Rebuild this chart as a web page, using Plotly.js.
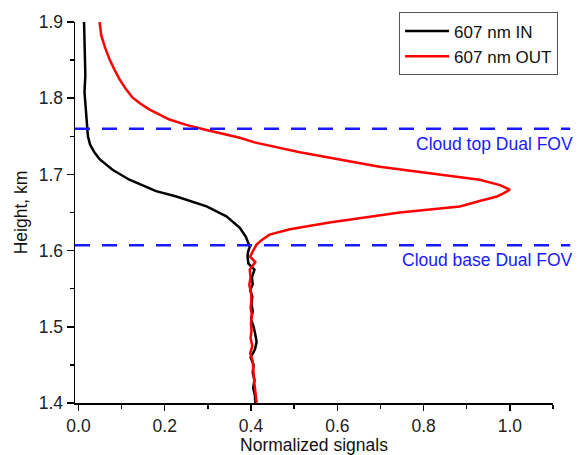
<!DOCTYPE html>
<html>
<head>
<meta charset="utf-8">
<script src="https://cdn.plot.ly/plotly-3.0.1.min.js"></script>
<style>html,body{margin:0;padding:0;background:#fff;}#chart{width:578px;height:455px;}</style>
</head>
<body>
<div id="chart"></div>
<script>
// 607 nm IN (black)
const inHeight = [1.900, 1.870, 1.851, 1.830, 1.808, 1.785, 1.765, 1.750, 1.739, 1.729, 1.720, 1.706, 1.693, 1.687, 1.678, 1.671, 1.658, 1.645, 1.636, 1.630, 1.618, 1.605, 1.598, 1.592, 1.583, 1.575, 1.565, 1.556, 1.548, 1.540, 1.530, 1.520, 1.510, 1.500, 1.490, 1.480, 1.470, 1.460, 1.450, 1.440, 1.430, 1.420, 1.410, 1.400];
const inSignal = [0.013, 0.015, 0.016, 0.016, 0.014, 0.017, 0.019, 0.022, 0.027, 0.037, 0.049, 0.079, 0.118, 0.142, 0.180, 0.227, 0.297, 0.343, 0.362, 0.374, 0.388, 0.397, 0.393, 0.392, 0.394, 0.408, 0.402, 0.404, 0.398, 0.403, 0.401, 0.404, 0.400, 0.406, 0.410, 0.413, 0.409, 0.399, 0.406, 0.404, 0.408, 0.405, 0.409, 0.410];

// 607 nm OUT (red)
const outHeight = [1.900, 1.882, 1.866, 1.851, 1.838, 1.825, 1.812, 1.801, 1.793, 1.785, 1.772, 1.765, 1.759, 1.748, 1.742, 1.729, 1.710, 1.693, 1.686, 1.680, 1.675, 1.671, 1.665, 1.658, 1.650, 1.637, 1.628, 1.621, 1.614, 1.608, 1.599, 1.592, 1.585, 1.575, 1.565, 1.555, 1.545, 1.535, 1.525, 1.515, 1.505, 1.495, 1.485, 1.475, 1.465, 1.455, 1.445, 1.435, 1.425, 1.415, 1.405, 1.400];
const outSignal = [0.049, 0.053, 0.062, 0.072, 0.083, 0.095, 0.110, 0.125, 0.143, 0.165, 0.211, 0.250, 0.292, 0.374, 0.408, 0.513, 0.698, 0.930, 0.977, 1.000, 0.985, 0.970, 0.930, 0.884, 0.745, 0.582, 0.490, 0.443, 0.425, 0.413, 0.404, 0.398, 0.410, 0.397, 0.399, 0.396, 0.400, 0.401, 0.399, 0.402, 0.400, 0.401, 0.399, 0.403, 0.398, 0.404, 0.405, 0.406, 0.408, 0.410, 0.412, 0.413];

// Cloud boundaries (Dual FOV)
const cloudHeights = [1.760, 1.607];
const cloudLabels = ["Cloud top Dual FOV", "Cloud base Dual FOV"];

const xTickVals = [0.0, 0.2, 0.4, 0.6, 0.8, 1.0];
const xTickText = ["0.0", "0.2", "0.4", "0.6", "0.8", "1.0"];
const yTickVals = [1.4, 1.5, 1.6, 1.7, 1.8, 1.9];
const yTickText = ["1.4", "1.5", "1.6", "1.7", "1.8", "1.9"];

const FONT = "Arial, 'Liberation Sans', sans-serif";
const FS = 17.5;
const BLUE = "#1a1aff";

const traces = [
  {x: inSignal, y: inHeight, type: "scatter", mode: "lines", name: "607 nm IN",
   line: {color: "#000000", width: 2.5}},
  {x: outSignal, y: outHeight, type: "scatter", mode: "lines", name: "607 nm OUT",
   line: {color: "#ff0000", width: 2.5}}
];

const shapes = cloudHeights.map(h => ({
  type: "line", xref: "paper", yref: "y", x0: 0, x1: 1.036, y0: h, y1: h,
  line: {color: BLUE, width: 2.5, dash: "15px,12px"}, layer: "above"
}));

const annotations = cloudHeights.map((h, i) => ({
  xref: "paper", yref: "y", x: 1.046, y: h, xanchor: "right", yanchor: "top",
  yshift: -3, text: cloudLabels[i], showarrow: false,
  font: {family: FONT, size: FS, color: BLUE}
}));

const layout = {
  width: 578, height: 455,
  margin: {l: 75, r: 25, t: 22, b: 52},
  paper_bgcolor: "#ffffff", plot_bgcolor: "#ffffff",
  font: {family: FONT, size: FS, color: "#222222"},
  showlegend: true,
  legend: {x: 0.678, y: 1.025, xanchor: "left", yanchor: "top",
    bgcolor: "#ffffff", bordercolor: "#555555", borderwidth: 1,
    font: {family: FONT, size: 17, color: "#111111"},
    tracegroupgap: 0, itemwidth: 44},
  xaxis: {
    range: [-0.008, 1.1], showgrid: false, zeroline: false,
    showline: true, linecolor: "#000000", linewidth: 1.5,
    ticks: "outside", ticklen: 6, tickwidth: 1.5, tickcolor: "#000000",
    tickvals: xTickVals, ticktext: xTickText,
    tickfont: {family: FONT, size: FS, color: "#222222"},
    minor: {dtick: 0.1, tick0: 0, ticks: "outside", ticklen: 4, tickwidth: 1.5, tickcolor: "#000000", showgrid: false},
    title: {text: "Normalized signals", font: {family: FONT, size: FS, color: "#111111"}, standoff: 2}
  },
  yaxis: {
    range: [1.4, 1.9], showgrid: false, zeroline: false,
    showline: true, linecolor: "#000000", linewidth: 1.5,
    ticks: "outside", ticklen: 7, tickwidth: 1.5, tickcolor: "#000000",
    tickvals: yTickVals, ticktext: yTickText,
    tickfont: {family: FONT, size: FS, color: "#222222"},
    minor: {dtick: 0.05, tick0: 1.4, ticks: "outside", ticklen: 4, tickwidth: 1.5, tickcolor: "#000000", showgrid: false},
    title: {text: "Height, km", font: {family: FONT, size: FS, color: "#111111"}, standoff: 6}
  },
  shapes: shapes,
  annotations: annotations
};

Plotly.newPlot("chart", traces, layout, {displayModeBar: false, staticPlot: true});
</script>
</body>
</html>
